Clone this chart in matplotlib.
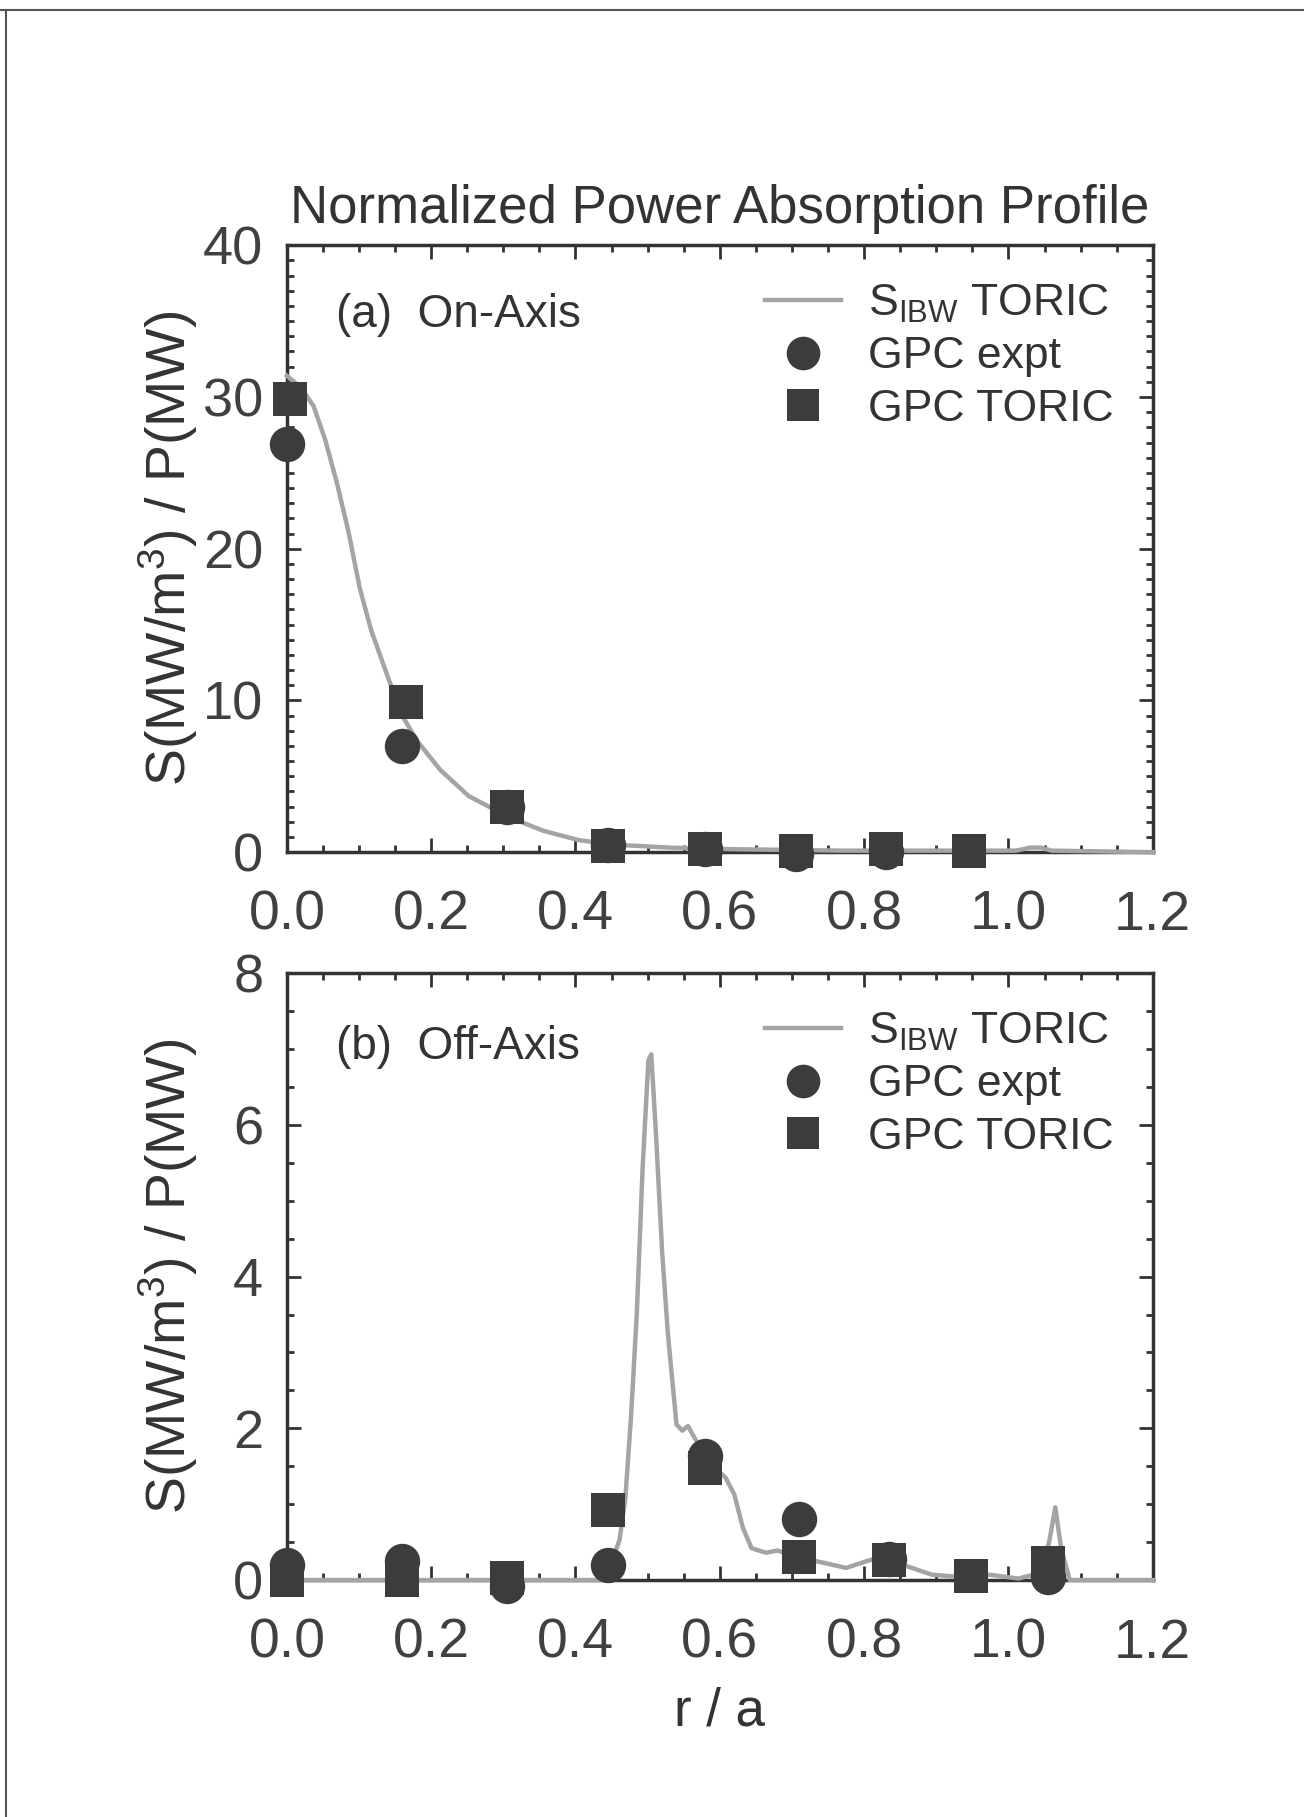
import numpy as np
import matplotlib
matplotlib.use("Agg")
import matplotlib.pyplot as plt
from matplotlib.lines import Line2D
from matplotlib.ticker import MultipleLocator, FormatStrFormatter

plt.rcParams['font.family'] = ['Liberation Sans', 'DejaVu Sans']
plt.rcParams['mathtext.default'] = 'regular'

# (a) on-axis: TORIC absorption profile
r_on = [0.0, 0.02, 0.037, 0.053, 0.069, 0.085, 0.101, 0.117, 0.141, 0.161, 0.181,
        0.213, 0.252, 0.308, 0.356, 0.404, 0.451, 0.531, 0.611, 0.77, 1.01, 1.03,
        1.045, 1.06, 1.2]
s_on = [31.4, 30.6, 29.4, 27.2, 24.4, 21.2, 17.4, 14.6, 11.4, 8.9, 7.3,
        5.4, 3.7, 2.3, 1.4, 0.8, 0.5, 0.3, 0.2, 0.1, 0.1, 0.3,
        0.3, 0.1, 0.0]
r_on_expt = [0.0, 0.16, 0.305, 0.445, 0.58, 0.705, 0.83]
s_on_expt = [26.9, 7.0, 3.0, 0.5, 0.2, -0.1, 0.0]
r_on_toric = [0.005, 0.165, 0.305, 0.445, 0.58, 0.705, 0.83, 0.945]
s_on_toric = [29.9, 9.9, 3.0, 0.4, 0.2, 0.1, 0.2, 0.1]

# (b) off-axis
r_off = [0.0, 0.44, 0.449, 0.461, 0.469, 0.477, 0.485, 0.493, 0.501, 0.505, 0.511,
         0.52, 0.528, 0.54, 0.548, 0.556, 0.564, 0.584, 0.608, 0.62, 0.632, 0.644,
         0.664, 0.68, 0.703, 0.743, 0.775, 0.807, 0.831, 0.854, 0.894, 0.934,
         0.974, 1.014, 1.046, 1.057, 1.065, 1.073, 1.085, 1.2]
s_off = [0.0, 0.0, 0.2, 0.53, 1.07, 2.16, 3.52, 5.43, 6.85, 6.93, 5.97,
         4.34, 3.25, 2.05, 1.97, 2.03, 1.89, 1.56, 1.35, 1.13, 0.69, 0.42,
         0.36, 0.39, 0.31, 0.23, 0.16, 0.26, 0.31, 0.2, 0.07, 0.04,
         0.07, 0.02, 0.1, 0.53, 0.96, 0.42, 0.0, 0.0]
r_off_expt = [0.0, 0.16, 0.305, 0.445, 0.58, 0.71, 0.835, 1.055]
s_off_expt = [0.2, 0.25, -0.08, 0.2, 1.63, 0.8, 0.28, 0.04]
r_off_toric = [0.0, 0.16, 0.305, 0.445, 0.58, 0.71, 0.835, 0.948, 1.055]
s_off_toric = [0.0, 0.0, 0.03, 0.93, 1.48, 0.3, 0.26, 0.05, 0.23]

TXT = '#333333'
MK = '#3c3c3c'
LN = '#a4a4a4'

fig = plt.figure(figsize=(13.04, 18.17), dpi=100)
ax1 = fig.add_axes([0.220, 0.531, 0.664, 0.334])
ax2 = fig.add_axes([0.220, 0.1304, 0.664, 0.334])

panels = [
    (ax1, r_on, s_on, r_on_expt, s_on_expt, r_on_toric, s_on_toric,
     40, 10, 1, '(a)  On-Axis', 0.885),
    (ax2, r_off, s_off, r_off_expt, s_off_expt, r_off_toric, s_off_toric,
     8, 2, 0.5, '(b)  Off-Axis', 0.878),
]

for ax, rx, sy, re, se, rt, st, ymax, ymaj, ymin, tag, ty in panels:
    ax.plot(rx, sy, color=LN, lw=3.2, zorder=3, clip_on=False,
            label=r'S$_{IBW}$ TORIC')
    ax.plot(re, se, 'o', color=MK, ms=25.5, mew=0, zorder=4, clip_on=False,
            label='GPC expt')
    ax.plot(rt, st, 's', color=MK, ms=24.5, mew=0, zorder=5, clip_on=False,
            label='GPC TORIC')
    ax.set_xlim(0, 1.2)
    ax.set_ylim(0, ymax)
    ax.xaxis.set_major_locator(MultipleLocator(0.2))
    ax.xaxis.set_minor_locator(MultipleLocator(0.05))
    ax.yaxis.set_major_locator(MultipleLocator(ymaj))
    ax.yaxis.set_minor_locator(MultipleLocator(ymin))
    ax.xaxis.set_major_formatter(FormatStrFormatter('%.1f'))
    ax.yaxis.set_major_formatter(FormatStrFormatter('%d'))
    ax.tick_params(which='both', direction='in', top=True, right=True,
                   color=TXT, width=2, labelcolor='#404040')
    ax.tick_params(which='major', length=10)
    ax.tick_params(which='minor', length=5)
    ax.tick_params(axis='x', pad=27, labelsize=40)
    ax.tick_params(axis='y', pad=17, labelsize=39)
    for sp in ax.spines.values():
        sp.set_linewidth(2.5)
        sp.set_color(TXT)
    ax.set_ylabel('S(MW/m$^3$) / P(MW)', fontsize=40, color=TXT)
    ax.yaxis.set_label_coords(-0.100, 0.5)
    ax.text(0.057, ty, tag, transform=ax.transAxes, fontsize=33, color=TXT,
            va='center', ha='left')
    leg = ax.legend(loc='upper left', bbox_to_anchor=(0.532, 0.968), frameon=False,
                    fontsize=32, handlelength=1.7, handletextpad=0.6,
                    labelspacing=0.26, borderaxespad=0, markerscale=0.95)
    for t in leg.get_texts():
        t.set_color(TXT)

ax2.set_xlabel('r / a', fontsize=38, color=TXT, labelpad=12)

fig.text(0.552, 0.885, 'Normalized Power Absorption Profile', fontsize=38,
         color=TXT, ha='center', va='center')

# page frame of the scanned sheet
fig.add_artist(Line2D([0.0, 1.0], [0.9945, 0.9945], color='#555555', lw=1.5))
fig.add_artist(Line2D([0.0046, 0.0046], [0.0, 0.9945], color='#555555', lw=1.5))

fig.savefig('out.png', dpi=100)
